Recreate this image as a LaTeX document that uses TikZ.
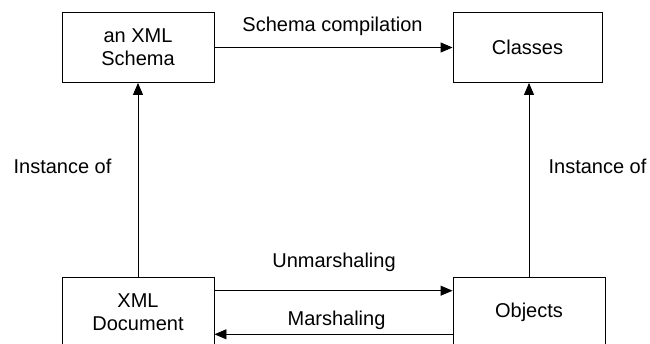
\documentclass[tikz,border=0pt]{standalone}
\usepackage{fontspec}
\setmainfont{Liberation Sans}
\usetikzlibrary{arrows.meta,positioning}

\begin{document}
\begin{tikzpicture}[x=1pt,y=1pt,line width=0.9pt,>={Triangle[length=12pt,width=10pt]},
  box/.style={draw,inner sep=0pt,align=center,
    minimum height=70pt,font=\fontsize{20}{23}\selectfont},
  lbl/.style={anchor=base,inner sep=0pt,font=\fontsize{20}{23}\selectfont}]
\useasboundingbox(0,0)rectangle(650,343);
\clip(0,0)rectangle(650,343);
% the four boxes
\node[box,minimum width=152pt](schema)at(138,295.5){an XML\\Schema};
\node[box,minimum width=149pt](classes)at(527.5,295.5){Classes};
\node[box,minimum width=152pt](xmldoc)at(138,31){XML\\Document};
\node[box,minimum width=152pt](objects)at(529,31){Objects};
% arrows between them
\draw[->](schema.east)--(classes.west);
\draw[->](xmldoc.north)--(schema.south);
\draw[->](objects.north)--(objects.north|-classes.south);
\draw[->]([yshift=21.3pt]xmldoc.east)--([yshift=21.3pt]objects.west);
\draw[->]([yshift=-22.3pt]objects.west)--([yshift=-22.3pt]xmldoc.east);
% labels
\node[lbl](comp)at(332.5,311){Schema compilation};
\node[lbl](inst1)at(62.5,169){Instance of};
\node[lbl](inst2)at(597.5,169){Instance of};
\node[lbl](unm)at(334,76){Unmarshaling};
\node[lbl](mar)at(336.5,18){Marshaling};
\end{tikzpicture}
\end{document}
